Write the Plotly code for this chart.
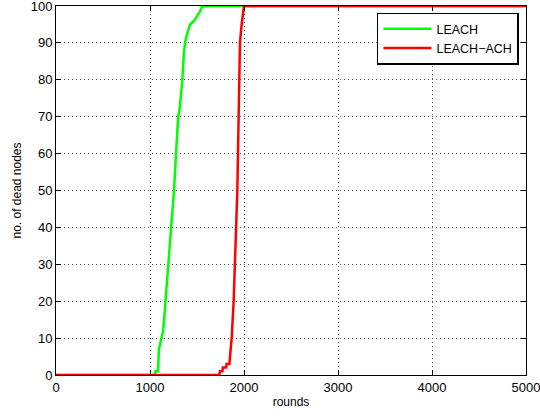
import plotly.graph_objects as go

leach_rounds = [0, 1050, 1060, 1085, 1095, 1110, 1140, 1165, 1195, 1230, 1255, 1277, 1300, 1315,
                1344, 1360, 1372, 1390, 1426, 1470, 1497, 1532, 1556, 5000]
leach_dead = [0, 0, 1, 1, 7, 9, 12, 20, 30, 40, 50, 60, 70, 72,
              80, 87, 90, 92, 95, 96, 97, 98.5, 100, 100]

ach_rounds = [0, 1737, 1745, 1770, 1775, 1810, 1815, 1845, 1858, 1869, 1890, 1904, 1918, 1929,
              1936, 1943, 1950, 1957, 1975, 1990, 2000, 5000]
ach_dead = [0, 0, 1, 1, 2, 2, 3, 3, 7, 10, 20, 30, 40, 50,
            60, 70, 80, 90, 95, 98, 100, 100]

x_ticks = [0, 1000, 2000, 3000, 4000, 5000]
y_ticks = [0, 10, 20, 30, 40, 50, 60, 70, 80, 90, 100]

fig = go.Figure()
fig.add_trace(go.Scatter(x=leach_rounds, y=leach_dead, mode="lines", name="LEACH",
                         line=dict(color="#00ff00", width=2.5)))
fig.add_trace(go.Scatter(x=ach_rounds, y=ach_dead, mode="lines", name="LEACH\u2212ACH",
                         line=dict(color="#ff0000", width=2.5)))

axis_common = dict(showline=True, linecolor="black", linewidth=1, mirror="ticks",
                   ticks="inside", ticklen=5, tickcolor="black",
                   showgrid=True, gridcolor="#555555", griddash="1px,3px", gridwidth=1,
                   zeroline=False, tickfont=dict(size=13, color="black"), automargin=False,
                   ticklabeloverflow="allow")

fig.update_xaxes(range=[0, 5000], tickvals=x_ticks,
                 title=dict(text="rounds", font=dict(size=12, color="black"), standoff=4),
                 **axis_common)
fig.update_yaxes(range=[0, 100], tickvals=y_ticks,
                 title=dict(text="no. of dead nodes", font=dict(size=12, color="black"), standoff=6),
                 **axis_common)

fig.update_layout(
    width=540, height=417,
    margin=dict(l=56, r=14, t=6, b=42),
    paper_bgcolor="white", plot_bgcolor="white",
    font=dict(family="Liberation Sans, Arial, sans-serif", color="black"),
    legend=dict(x=0.985, y=0.982, xanchor="right", yanchor="top",
                bordercolor="black", borderwidth=1.5, bgcolor="white",
                font=dict(size=12.5), tracegroupgap=0, itemwidth=48),
    showlegend=True,
)

fig.write_html("out.html", config={"displayModeBar": False},
               post_script="document.body.style.margin='0';document.body.style.overflow='hidden';")
